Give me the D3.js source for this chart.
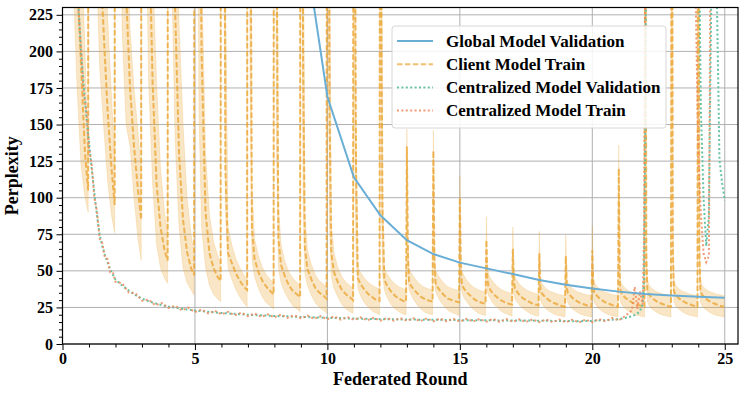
<!DOCTYPE html>
<html>
<head>
<meta charset="utf-8">
<script src="https://cdn.jsdelivr.net/npm/d3@7"></script>
<style>
  body { margin: 0; background: #fff; }
  svg { display: block; font-family: "Liberation Serif", "Times New Roman", serif; font-weight: bold; }
</style>
</head>
<body>
<div id="graphic"></div>
<script>
// --- data ---
// offsets of the logged local steps inside one federated round
const OFFSETS = [0, 0.04, 0.08, 0.15, 0.25, 0.4, 0.55, 0.7, 0.85, 0.97];

// client model train perplexity per round (mean, lower and upper band)
const CLIENT_MEAN = [
  [5000, 3000, 2000, 1200, 700, 360, 255, 190, 130, 105],
  [5000, 3000, 2000, 1100, 500, 270, 215, 160, 120, 95],
  [4000, 2500, 1500, 750, 360, 240, 175, 135, 105, 85],
  [3500, 2000, 1200, 550, 300, 180, 110, 80, 64, 57],
  [3000, 1800, 1000, 420, 230, 130, 85, 63, 52, 47],
  [2500, 1500, 800, 400, 200, 90, 62, 52, 46, 43],
  [2000, 1200, 600, 120, 62, 55, 48, 43, 39, 37],
  [1800, 900, 400, 80, 58, 49, 43, 39, 36, 34],
  [1500, 700, 280, 72, 54, 46, 40, 36, 34, 32],
  [1300, 550, 200, 66, 51, 44, 38, 35, 33, 31],
  [1100, 450, 160, 62, 49, 42, 37, 34, 32, 30],
  [900, 300, 120, 45, 41, 37, 34, 32, 30, 29.5],
  [700, 220, 90, 44, 40, 36, 33, 31, 29.5, 29],
  [135, 60, 43, 40, 37.5, 34.5, 32, 30.5, 29.5, 29],
  [132, 56, 42, 39, 36.5, 33.5, 31, 30, 29, 28.5],
  [100, 50, 41, 38, 35.5, 33, 30.5, 29, 28, 27.5],
  [71, 44, 39.5, 37, 34.5, 32, 30, 28.5, 27.5, 27],
  [65, 42, 38, 36, 33.5, 31, 29.5, 28, 27, 26.5],
  [62, 38, 35, 33.5, 31.5, 29.5, 28, 27, 26, 25.5],
  [60, 38, 35, 33.5, 31.5, 29.5, 28, 27, 26, 25.5],
  [64, 38, 35, 33.5, 31.5, 29.5, 28, 27, 26, 25.5],
  [120, 40, 35.5, 33.5, 31.5, 29.5, 28, 27, 26, 25.5],
  [400, 60, 36, 33.5, 31.5, 29.5, 28, 27, 26, 25.5],
  [500, 65, 36, 33.5, 31.5, 29.5, 28, 27, 26, 25.5],
  [500, 65, 36, 33.5, 31.5, 29.5, 28, 27, 26, 25.5]
];
const CLIENT_LOW = [
  [3000, 2000, 1300, 800, 450, 250, 175, 122, 100, 90],
  [3000, 2000, 1200, 700, 280, 190, 150, 112, 88, 76],
  [2500, 1500, 900, 420, 215, 150, 135, 100, 72, 57],
  [2000, 1200, 700, 300, 180, 110, 68, 52, 45, 41.5],
  [1500, 900, 500, 230, 140, 80, 52, 42, 37, 33.5],
  [1200, 700, 400, 160, 80, 52, 40, 34, 31, 29],
  [1000, 600, 300, 90, 52, 44, 37, 32, 28, 25.5],
  [800, 400, 180, 58, 46, 38, 32, 28, 26, 24],
  [700, 330, 130, 52, 42, 35, 30, 26, 24, 22],
  [600, 260, 100, 48, 40, 33, 28, 25, 23, 21],
  [500, 200, 80, 46, 38, 32, 27, 24, 22, 21],
  [400, 130, 60, 38, 33, 28, 25, 22.5, 21, 20],
  [320, 100, 48, 37, 32, 27, 24, 22, 20.5, 20],
  [120, 48, 37, 34, 30.5, 26.5, 23.5, 21.5, 20.5, 20],
  [118, 45, 36, 33, 29.5, 26, 23, 21.5, 20.5, 19.5],
  [85, 41, 35, 32, 29, 25.5, 23, 21, 20, 19.5],
  [58, 36, 33, 31, 28, 25, 22.5, 21, 20, 19],
  [52, 34, 31, 29, 26.5, 24, 22, 20.5, 19.5, 19],
  [50, 31, 28, 26, 24, 22, 20.5, 19.5, 19, 18.5],
  [48, 31, 28, 26, 24, 22, 20.5, 19.5, 19, 18.5],
  [52, 31, 28, 26, 24, 22, 20.5, 19.5, 19, 18.5],
  [100, 32, 28, 26, 24, 22, 20.5, 19.5, 19, 18.5],
  [250, 45, 29, 26, 24, 22, 20.5, 19.5, 19, 18.5],
  [300, 50, 29, 26, 24, 22, 20.5, 19.5, 19, 18.5],
  [300, 50, 29, 26, 24, 22, 20.5, 19.5, 19, 18.5]
];
const CLIENT_HIGH = [
  [8000, 5000, 3000, 2000, 1100, 500, 360, 280, 200, 126],
  [8000, 5000, 3000, 1800, 900, 420, 300, 225, 170, 126],
  [7000, 4000, 2500, 1200, 550, 300, 215, 175, 145, 118],
  [6000, 3500, 2000, 900, 450, 260, 180, 120, 90, 76],
  [5000, 3000, 1700, 750, 380, 220, 150, 100, 75, 62],
  [4000, 2500, 1400, 600, 260, 130, 88, 70, 61, 55],
  [3500, 2000, 1000, 260, 80, 67, 58, 52, 47, 44],
  [3000, 1600, 700, 110, 72, 60, 52, 47, 44, 42],
  [2500, 1200, 500, 95, 68, 56, 49, 45, 42, 40],
  [2200, 1000, 380, 88, 64, 54, 47, 43, 41, 39],
  [1800, 800, 300, 82, 62, 52, 46, 42, 40, 38],
  [1500, 500, 160, 53, 49, 45, 42, 40, 38.5, 38],
  [1100, 360, 110, 52, 48, 44, 41, 39, 38, 37],
  [147, 72, 52, 49, 46, 42.5, 40, 38.5, 37.5, 37],
  [146, 68, 51, 48, 45, 41.5, 39, 38, 37, 36.5],
  [115, 60, 50, 47, 44, 40.5, 38.5, 37, 36, 35.5],
  [87, 54, 48, 45, 42.5, 39.5, 37.5, 36, 35, 34.5],
  [80, 51, 46, 43.5, 41, 38.5, 36.5, 35.5, 34.5, 34],
  [77, 46, 42, 40, 38, 36, 35, 34, 33.5, 33],
  [74.5, 46, 42, 40, 38, 36, 35, 34, 33.5, 33],
  [80.5, 46, 42, 40, 38, 36, 35, 34, 33.5, 33],
  [136, 48, 42, 40, 38, 36, 35, 34, 33.5, 33],
  [600, 70, 44, 40, 38, 36, 35, 34, 33.5, 33],
  [700, 80, 44, 40, 38, 36, 35, 34, 33.5, 33],
  [700, 80, 44, 40, 38, 36, 35, 34, 33.5, 33]
];

// global model validation, one value per round
const GLOBAL_ROUNDS = [9, 10, 11, 12, 13, 14, 15, 16, 17, 18, 19, 20, 21, 22, 23, 24, 25];
const GLOBAL_VAL = [290, 169, 114, 88, 71, 61.5, 55.6, 51.7, 47.8, 43.7, 40.5, 38, 35.8, 34.2, 33.2, 32.3, 31.6];

// centralized model, position in rounds
const CENT_X = [
  0.3, 0.4, 0.5, 0.6, 0.7, 0.8, 0.9, 1.0, 1.1, 1.2, 1.3, 1.4, 1.5, 1.6, 1.7, 1.8, 1.9, 2.0,
  2.25, 2.5, 2.75, 3.0, 3.25, 3.5, 3.75, 4.0, 4.25, 4.5, 4.75, 5.0, 5.25, 5.5, 5.75, 6.0,
  6.25, 6.5, 6.75, 7.0, 7.25, 7.5, 7.75, 8.0, 8.25, 8.5, 8.75, 9.0, 9.25, 9.5, 9.75, 10.0,
  10.25, 10.5, 10.75, 11.0, 11.25, 11.5, 11.75, 12.0, 12.25, 12.5, 12.75, 13.0,
  13.25, 13.5, 13.75, 14.0, 14.25, 14.5, 14.75, 15.0, 15.25, 15.5, 15.75, 16.0,
  16.25, 16.5, 16.75, 17.0, 17.25, 17.5, 17.75, 18.0, 18.25, 18.5, 18.75, 19.0,
  19.25, 19.5, 19.75, 20.0, 20.25, 20.5, 20.75, 21.0, 21.25, 21.5,
  21.6, 21.7, 21.8, 21.9, 21.95, 22.0, 22.05, 22.1,
  23.8, 23.9, 24.0, 24.1, 24.2, 24.3, 24.4, 24.5, 24.6, 24.7, 24.8, 24.9, 25.0
];
const CENT_VAL = [
  340, 300, 262, 232, 200, 176, 156, 138, 120, 104, 88, 75, 67, 61, 56, 51, 47.5, 44,
  40, 36.5, 33.5, 31, 29.2, 27.8, 26.6, 25.6, 24.8, 24.1, 23.5, 22.9, 22.4, 22, 21.6, 21.2,
  20.9, 20.6, 20.3, 20, 19.8, 19.6, 19.4, 19.2, 19, 18.9, 18.7, 18.5, 18.4, 18.2, 18.1, 17.9,
  17.8, 17.7, 17.5, 17.4, 17.3, 17.2, 17.1, 17.0, 16.9, 16.9, 16.8, 16.7,
  16.7, 16.6, 16.6, 16.5, 16.5, 16.4, 16.4, 16.3, 16.3, 16.3, 16.2, 16.2,
  16.2, 16.1, 16.1, 16.1, 16.0, 16.0, 16.0, 15.9, 15.9, 15.8, 15.8, 15.7,
  15.6, 15.6, 15.7, 15.8, 16.0, 16.3, 16.6, 17.0, 17.8, 19.0,
  19.8, 20.8, 22.5, 27, 45, 140, 400, 600,
  600, 500, 320, 160, 100, 67, 88, 250, 420, 240, 126, 110, 98
];
const CENT_TRAIN = [
  345, 296, 266, 228, 203, 171, 160, 134, 123, 100, 91, 72, 69, 59, 58, 49, 49, 42.5,
  41.5, 35.2, 34.8, 29.6, 30.4, 26.5, 28.0, 24.6, 26.1, 23.0, 24.8, 21.8, 23.6, 20.9, 22.7, 20.3,
  22.0, 19.6, 21.4, 19.1, 20.9, 18.5, 20.3, 18.2, 20.1, 17.9, 19.6, 17.6, 19.4, 17.2, 19.0, 16.9,
  18.9, 16.7, 18.4, 16.5, 18.2, 16.2, 17.9, 16.0, 17.8, 15.9, 17.7, 15.8,
  17.6, 15.6, 17.5, 15.5, 17.4, 15.5, 17.3, 15.3, 17.2, 15.4, 17.1, 15.2,
  17.2, 15.1, 17.0, 15.2, 16.9, 15.0, 16.9, 14.9, 16.8, 14.9, 16.7, 14.8,
  16.6, 14.7, 16.7, 15.0, 17.1, 15.4, 17.8, 16.1, 19.2, 23,
  39, 24, 36, 27, 70, 260, 600, 600,
  600, 240, 130, 88, 62, 56, 60, 400, 600, 600, 600, 600, 600
];

const X_TICKS = [0, 5, 10, 15, 20, 25];
const Y_TICKS = [0, 25, 50, 75, 100, 125, 150, 175, 200, 225];
const LEGEND_LABELS = ["Global Model Validation", "Client Model Train", "Centralized Model Validation", "Centralized Model Train"];

// --- layout ---
const WIDTH = 747;
const HEIGHT = 396;
const LEFT = 62.5;
const RIGHT = 738;
const TOP = 7.5;
const BOTTOM = 344;
const X_MAX = 25.5;
const Y_MAX = 230;

const BLUE = "#6aaed6";
const GOLD = "#eba634";
const TEAL = "#66c2a5";
const SALMON = "#f08a5d";

var svg, xScale, yScale;

function renderLayout() {
  svg = d3.select("#graphic")
    .append("svg")
    .attr("width", WIDTH)
    .attr("height", HEIGHT);

  xScale = d3.scaleLinear().domain([0, X_MAX]).range([LEFT, RIGHT]);
  yScale = d3.scaleLinear().domain([0, Y_MAX]).range([BOTTOM, TOP]);

  svg.append("clipPath")
    .attr("id", "plot-clip")
    .append("rect")
    .attr("x", LEFT)
    .attr("y", TOP)
    .attr("width", RIGHT - LEFT)
    .attr("height", BOTTOM - TOP);
}

function renderAxes() {
  var minorX = d3.range(1, 26).filter(d => d % 5 != 0);
  var minorY = d3.range(5, Y_MAX, 5).filter(d => d % 25 != 0);

  var styleTicks = function(g) {
    g.select(".domain").remove();
    g.selectAll("line").attr("stroke", "#000").attr("stroke-width", 1);
    g.selectAll("text")
      .attr("fill", "#000")
      .style("font-family", "'Liberation Serif', serif")
      .style("font-weight", "bold")
      .style("font-size", "16px");
  };

  svg.append("g")
    .attr("transform", `translate(0, ${BOTTOM})`)
    .call(d3.axisBottom(xScale).tickValues(minorX).tickSize(3.5).tickFormat(""))
    .call(styleTicks);
  svg.append("g")
    .attr("transform", `translate(0, ${BOTTOM})`)
    .call(d3.axisBottom(xScale).tickValues(X_TICKS).tickSize(6).tickPadding(3))
    .call(styleTicks);

  svg.append("g")
    .attr("transform", `translate(${LEFT}, 0)`)
    .call(d3.axisLeft(yScale).tickValues(minorY).tickSize(3.5).tickFormat(""))
    .call(styleTicks);
  svg.append("g")
    .attr("transform", `translate(${LEFT}, 0)`)
    .call(d3.axisLeft(yScale).tickValues(Y_TICKS).tickSize(6).tickPadding(3.5))
    .call(styleTicks);

  svg.append("text")
    .attr("x", (LEFT + RIGHT) / 2)
    .attr("y", 385)
    .attr("text-anchor", "middle")
    .style("font-size", "18px")
    .text("Federated Round");

  svg.append("text")
    .attr("transform", `translate(18, ${(TOP + BOTTOM) / 2}) rotate(-90)`)
    .attr("text-anchor", "middle")
    .style("font-size", "18px")
    .text("Perplexity");
}

function renderGrid() {
  var grid = svg.append("g").attr("class", "grid");
  grid.selectAll("line.gx")
    .data(X_TICKS)
    .enter()
    .append("line")
    .attr("x1", d => xScale(d))
    .attr("x2", d => xScale(d))
    .attr("y1", TOP)
    .attr("y2", BOTTOM);
  grid.selectAll("line.gy")
    .data(Y_TICKS)
    .enter()
    .append("line")
    .attr("x1", LEFT)
    .attr("x2", RIGHT)
    .attr("y1", d => yScale(d))
    .attr("y2", d => yScale(d));
  grid.selectAll("line")
    .attr("stroke", "#b0b0b0")
    .attr("stroke-width", 1);
}

function clientSeries() {
  var points = [];
  CLIENT_MEAN.forEach((row, r) => {
    row.forEach((v, i) => {
      points.push({
        x: r + OFFSETS[i],
        mean: v,
        low: CLIENT_LOW[r][i],
        high: CLIENT_HIGH[r][i]
      });
    });
  });
  return points;
}

function renderBand(layer, points) {
  var area = d3.area()
    .x(d => xScale(d.x))
    .y0(d => yScale(d.low))
    .y1(d => yScale(d.high));

  layer.append("path")
    .datum(points)
    .attr("d", area)
    .attr("fill", GOLD)
    .attr("fill-opacity", 0.28)
    .attr("stroke", GOLD)
    .attr("stroke-opacity", 0.25)
    .attr("stroke-width", 0.8);
}

function renderLines(layer, points) {
  var clientLine = d3.line()
    .x(d => xScale(d.x))
    .y(d => yScale(d.mean));

  layer.append("path")
    .datum(points)
    .attr("d", clientLine)
    .attr("fill", "none")
    .attr("stroke", GOLD)
    .attr("stroke-opacity", 0.8)
    .attr("stroke-width", 2)
    .attr("stroke-dasharray", "5.5,2.4");

  var centralized = CENT_X.map((x, i) => ({x: x, val: CENT_VAL[i], train: CENT_TRAIN[i]}));

  layer.append("path")
    .datum(centralized)
    .attr("d", d3.line().x(d => xScale(d.x)).y(d => yScale(d.val)))
    .attr("fill", "none")
    .attr("stroke", TEAL)
    .attr("stroke-width", 2)
    .attr("stroke-dasharray", "2,2.4");

  layer.append("path")
    .datum(centralized)
    .attr("d", d3.line().x(d => xScale(d.x)).y(d => yScale(d.train)))
    .attr("fill", "none")
    .attr("stroke", SALMON)
    .attr("stroke-opacity", 0.85)
    .attr("stroke-width", 2)
    .attr("stroke-dasharray", "2,2.4");

  var global = GLOBAL_ROUNDS.map((r, i) => ({x: r, val: GLOBAL_VAL[i]}));

  layer.append("path")
    .datum(global)
    .attr("d", d3.line().x(d => xScale(d.x)).y(d => yScale(d.val)))
    .attr("fill", "none")
    .attr("stroke", BLUE)
    .attr("stroke-width", 2);
}

function renderFrame() {
  svg.append("rect")
    .attr("x", LEFT)
    .attr("y", TOP)
    .attr("width", RIGHT - LEFT)
    .attr("height", BOTTOM - TOP)
    .attr("fill", "none")
    .attr("stroke", "#000")
    .attr("stroke-width", 1.2);
}

function renderLegend() {
  var styles = [
    {color: BLUE, dash: null, opacity: 1},
    {color: GOLD, dash: "5.5,2.4", opacity: 0.7},
    {color: TEAL, dash: "2,2.4", opacity: 1},
    {color: SALMON, dash: "2,2.4", opacity: 0.85}
  ];

  var legend = svg.append("g")
    .attr("transform", "translate(392, 26)");

  legend.append("rect")
    .attr("width", 274)
    .attr("height", 102)
    .attr("rx", 3)
    .attr("fill", "#fff")
    .attr("fill-opacity", 0.85)
    .attr("stroke", "#d6d6d6");

  var rows = legend.selectAll("g.row")
    .data(LEGEND_LABELS)
    .enter()
    .append("g")
    .attr("class", "row")
    .attr("transform", (d, i) => `translate(0, ${15 + i * 23.2})`);

  rows.append("line")
    .attr("x1", 5)
    .attr("x2", 41)
    .attr("stroke", (d, i) => styles[i].color)
    .attr("stroke-opacity", (d, i) => styles[i].opacity)
    .attr("stroke-width", 2)
    .attr("stroke-dasharray", (d, i) => styles[i].dash);

  rows.append("text")
    .attr("x", 54)
    .attr("y", 5.8)
    .style("font-size", "17px")
    .text(d => d);
}

renderLayout();
renderGrid();

var dataLayer = svg.append("g").attr("clip-path", "url(#plot-clip)");
var points = clientSeries();
renderBand(dataLayer, points);
renderLines(dataLayer, points);

renderFrame();
renderAxes();
renderLegend();
</script>
</body>
</html>
